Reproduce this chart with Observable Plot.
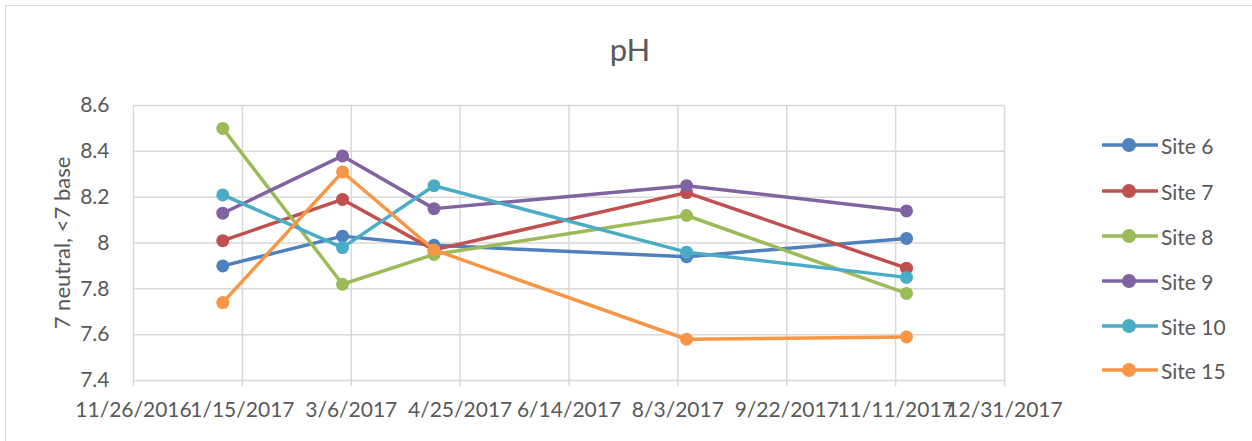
<!DOCTYPE html>
<html><head><meta charset="utf-8">
<script src="https://cdn.jsdelivr.net/npm/d3@7"></script>
<script src="https://cdn.jsdelivr.net/npm/@observablehq/plot@0.6"></script>
<style>
body{margin:0;background:#fff;}
#wrap{position:relative;width:1252px;height:441px;overflow:hidden;font-family:Lato, "Open Sans", sans-serif;color:#595959;background:#fff;}
#frame{position:absolute;left:5px;top:5px;width:1400px;height:600px;border-left:1.5px solid #d9d9d9;border-top:1.5px solid #d9d9d9;box-sizing:border-box;}
#title{position:absolute;left:0;width:1260px;top:34px;text-align:center;font-size:31px;line-height:31px;}
#ylabel{position:absolute;left:62px;top:243px;transform:translate(-50%,-50%) rotate(-90deg);font-size:22px;line-height:26px;white-space:nowrap;}
#legend{position:absolute;left:1102px;top:0;}
.item{position:absolute;left:0;height:30px;display:flex;align-items:center;font-size:21px;white-space:nowrap;}
.item svg{margin-right:3px;}
#chart{position:absolute;left:0;top:0;}
</style></head><body><div id="wrap"><div id="frame"></div><div id="title"></div><div id="ylabel"></div><div id="chart"></div><div id="legend"></div></div>
<script>
const title = "pH";
const yLabel = "7 neutral, <7 base";
const sites = ["Site 6", "Site 7", "Site 8", "Site 9", "Site 10", "Site 15"];
const colors = ["#4F81BD", "#C0504D", "#9BBB59", "#8064A2", "#4BACC6", "#F79646"];
const sampleDates = ["2017-01-06", "2017-03-02", "2017-04-13", "2017-08-07", "2017-11-16"];
const site6  = [7.90, 8.03, 7.99, 7.94, 8.02];
const site7  = [8.01, 8.19, 7.97, 8.22, 7.89];
const site8  = [8.50, 7.82, 7.95, 8.12, 7.78];
const site9  = [8.13, 8.38, 8.15, 8.25, 8.14];
const site10 = [8.21, 7.98, 8.25, 7.96, 7.85];
const site15 = [7.74, 8.31, 7.97, 7.58, 7.59];
const yTicks = [7.4, 7.6, 7.8, 8.0, 8.2, 8.4, 8.6];
const yTickLabels = ["7.4", "7.6", "7.8", "8", "8.2", "8.4", "8.6"];
const xTickLabels = ["11/26/2016", "1/15/2017", "3/6/2017", "4/25/2017", "6/14/2017", "8/3/2017", "9/22/2017", "11/11/2017", "12/31/2017"];

const seriesValues = [site6, site7, site8, site9, site10, site15];
const parseTick = d3.utcParse("%m/%d/%Y");
const xTicks = xTickLabels.map(parseTick);
const dates = sampleDates.map(d3.utcParse("%Y-%m-%d"));
const rows = sites.map((s, i) => seriesValues[i].map((v, j) => ({site: s, date: dates[j], value: v})));

document.getElementById("title").textContent = title;
document.getElementById("ylabel").textContent = yLabel;

const grid = "#d9d9d9";
const seriesMarks = rows.flatMap(r => [
  Plot.line(r, {x: "date", y: "value", stroke: "site", strokeWidth: 3.5, strokeLinejoin: "round"}),
  Plot.dot(r, {x: "date", y: "value", fill: "site", r: 6.5, stroke: "none"})
]);

const chart = Plot.plot({
  width: 1252, height: 441,
  marginLeft: 133, marginRight: 248, marginTop: 105, marginBottom: 61,
  style: {fontFamily: "Lato, 'Open Sans', sans-serif", fontSize: "21px", color: "#595959", background: "transparent", overflow: "visible"},
  x: {type: "utc", domain: [xTicks[0], xTicks[xTicks.length - 1]]},
  y: {domain: [yTicks[0], yTicks[yTicks.length - 1]]},
  color: {domain: sites, range: colors},
  marks: [
    Plot.gridX({ticks: xTicks, stroke: grid, strokeOpacity: 1, strokeWidth: 1.5}),
    Plot.gridY({ticks: yTicks, stroke: grid, strokeOpacity: 1, strokeWidth: 1.5}),
    Plot.axisX({ticks: xTicks, tickSize: 6, stroke: grid, strokeWidth: 1.5, text: null, label: null}),
    Plot.axisX({ticks: xTicks, tickSize: 0, tickPadding: 22, fill: "#595959", fontSize: 21, label: null,
      tickFormat: d => xTickLabels[xTicks.findIndex(t => +t === +d)]}),
    Plot.axisY({ticks: yTicks, tickSize: 0, tickPadding: 24, fill: "#595959", fontSize: 21, label: null,
      tickFormat: d => yTickLabels[yTicks.findIndex(t => Math.abs(t - d) < 1e-9)]}),
    ...seriesMarks
  ]
});
document.getElementById("chart").appendChild(chart);

const legend = document.getElementById("legend");
const legendTop = [145, 191, 236, 281, 326, 370];
sites.forEach((s, i) => {
  const div = document.createElement("div");
  div.className = "item";
  div.style.top = (legendTop[i] - 15) + "px";
  div.innerHTML = `<svg width="56" height="16"><line x1="1" y1="8" x2="55" y2="8" stroke="${colors[i]}" stroke-width="3.5" stroke-linecap="round"/><circle cx="27" cy="8" r="7" fill="${colors[i]}"/></svg><span>${s}</span>`;
  legend.appendChild(div);
});
</script></body></html>
